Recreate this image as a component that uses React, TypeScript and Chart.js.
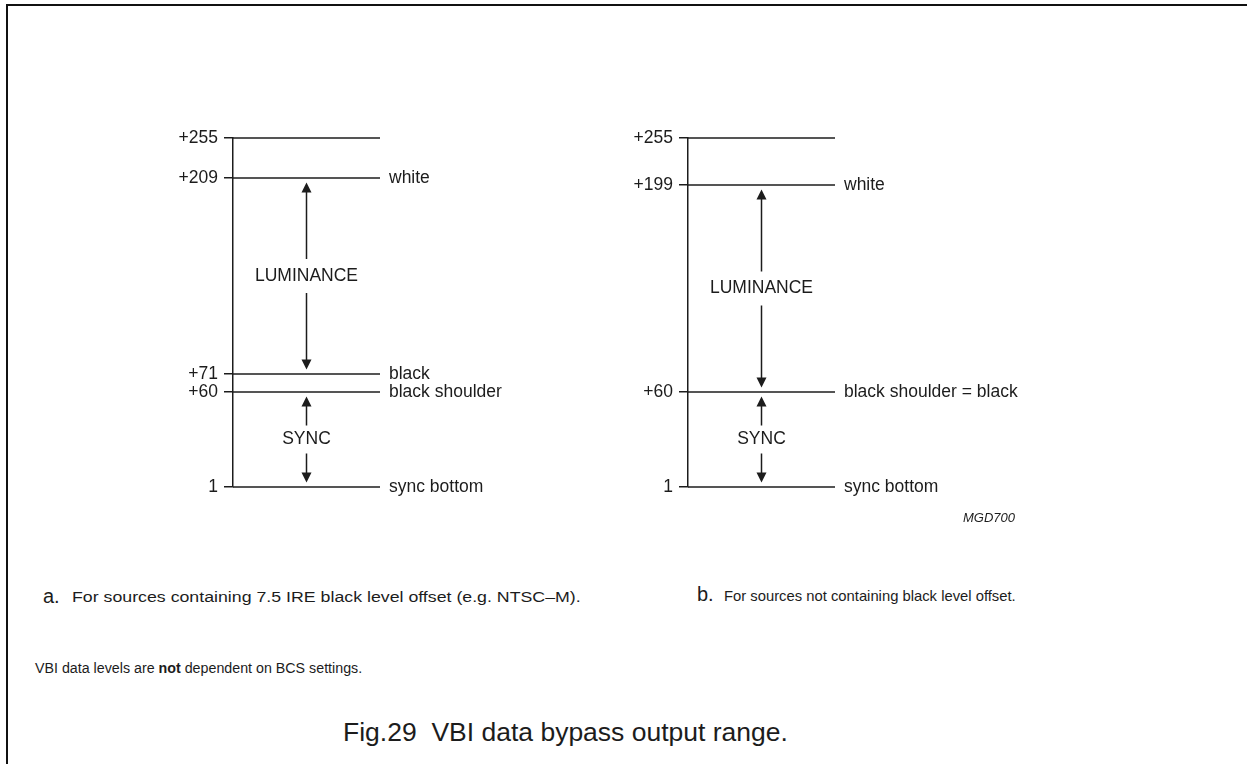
import React, { useEffect, useRef } from "react";
import { Chart, registerables } from "chart.js";

Chart.register(...registerables);

// ---------- Panel a: sources with 7.5 IRE black level offset ----------
const levelValuesA = [255, 209, 71, 60, 1];
const tickLabelsA = ["+255", "+209", "+71", "+60", "1"];
const levelNamesA = ["", "white", "black", "black shoulder", "sync bottom"];
// schematic (not-to-scale) height of each level in the drawing
const schematicA = [349, 309, 113, 95, 0];
const arrowFromA = [1, 3];
const arrowToA = [2, 4];
const arrowLabelsA = ["LUMINANCE", "SYNC"];

// ---------- Panel b: sources without black level offset ----------
const levelValuesB = [255, 199, 60, 1];
const tickLabelsB = ["+255", "+199", "+60", "1"];
const levelNamesB = ["", "white", "black shoulder = black", "sync bottom"];
const schematicB = [349, 302, 95, 0];
const arrowFromB = [1, 2];
const arrowToB = [2, 3];
const arrowLabelsB = ["LUMINANCE", "SYNC"];

const INK = "#1c1c1c";
const FONT = "'Liberation Sans', Arial, sans-serif";

const arrowPlugin = {
  id: "levelArrows",
  afterDatasetsDraw(chart: any, _args: any, opts: any) {
    const { ctx, chartArea, scales } = chart;
    const ys = scales.y;
    const x = (chartArea.left + chartArea.right) / 2;
    const items = opts.items || [];
    items.forEach((a: any) => {
      const yTop = ys.getPixelForValue(a.top);
      const yBot = ys.getPixelForValue(a.bottom);
      const mid = (yTop + yBot) / 2;
      const gap = 4.5;
      const head = 10;
      const hw = 5;
      const lg = a.labelGap;
      ctx.save();
      ctx.strokeStyle = INK;
      ctx.fillStyle = INK;
      ctx.lineWidth = 1.5;
      ctx.beginPath();
      ctx.moveTo(x, yTop + gap + head - 1);
      ctx.lineTo(x, mid - lg);
      ctx.moveTo(x, mid + lg);
      ctx.lineTo(x, yBot - gap - head + 1);
      ctx.stroke();
      ctx.beginPath();
      ctx.moveTo(x, yTop + gap);
      ctx.lineTo(x - hw, yTop + gap + head);
      ctx.lineTo(x + hw, yTop + gap + head);
      ctx.closePath();
      ctx.fill();
      ctx.beginPath();
      ctx.moveTo(x, yBot - gap);
      ctx.lineTo(x - hw, yBot - gap - head);
      ctx.lineTo(x + hw, yBot - gap - head);
      ctx.closePath();
      ctx.fill();
      ctx.font = `17.5px ${FONT}`;
      ctx.textAlign = "center";
      ctx.textBaseline = "middle";
      ctx.fillText(a.label, x, mid);
      ctx.restore();
    });
  },
};

function makeConfig(
  values: number[],
  tickLabels: string[],
  names: string[],
  heights: number[],
  from: number[],
  to: number[],
  arrowLabels: string[]
): any {
  const top = Math.max(...heights);
  const datasets = values.map((v, i) => ({
    type: "line",
    label: String(v),
    data: [
      { x: 0, y: heights[i] },
      { x: 1, y: heights[i] },
    ],
    borderColor: INK,
    borderWidth: 1.5,
    pointRadius: 0,
    clip: false,
  }));
  const setTicks = (s: any) => {
    s.ticks = heights.map((h) => ({ value: h }));
  };
  return {
    type: "line",
    data: { datasets },
    options: {
      animation: false,
      responsive: true,
      maintainAspectRatio: false,
      events: [],
      layout: { padding: { top: 38, bottom: 33, left: 0, right: 0 } },
      plugins: {
        legend: { display: false },
        tooltip: { enabled: false },
        levelArrows: {
          items: from.map((f, i) => ({
            top: heights[f],
            bottom: heights[to[i]],
            label: arrowLabels[i],
            labelGap: i === 0 ? 17 : 14,
          })),
        },
      },
      scales: {
        x: { type: "linear", min: 0, max: 1, display: false },
        y: {
          type: "linear",
          position: "left",
          min: 0,
          max: top,
          afterBuildTicks: setTicks,
          afterFit: (s: any) => {
            s.width = 83;
          },
          ticks: {
            autoSkip: false,
            padding: 6,
            color: INK,
            font: { family: FONT, size: 17.5 },
            callback: (v: any) => tickLabels[heights.indexOf(v)] ?? "",
          },
          grid: {
            drawOnChartArea: false,
            drawTicks: true,
            tickLength: 9,
            color: INK,
            lineWidth: 1.5,
          },
          border: { display: true, color: INK, width: 1.5 },
        },
        y2: {
          type: "linear",
          position: "right",
          min: 0,
          max: top,
          afterBuildTicks: setTicks,
          afterFit: (s: any) => {
            s.width = 230;
          },
          ticks: {
            autoSkip: false,
            padding: 1,
            color: INK,
            font: { family: FONT, size: 17.5 },
            callback: (v: any) => names[heights.indexOf(v)] ?? "",
          },
          grid: { display: false },
          border: { display: false },
        },
      },
    },
    plugins: [arrowPlugin],
  };
}

function Panel(props: { left: number; cfg: () => any }) {
  const ref = useRef<HTMLCanvasElement | null>(null);
  useEffect(() => {
    if (!ref.current) return;
    const chart = new Chart(ref.current, props.cfg());
    return () => chart.destroy();
  }, []);
  return (
    <div
      style={{
        position: "absolute",
        left: props.left,
        top: 100,
        width: 460,
        height: 420,
      }}
    >
      <canvas ref={ref} />
    </div>
  );
}

const textBase: React.CSSProperties = {
  position: "absolute",
  fontFamily: FONT,
  color: INK,
  whiteSpace: "nowrap",
  lineHeight: 1,
  transform: "translateY(-50%)",
  transformOrigin: "left center",
};

export default function App() {
  return (
    <div
      style={{
        position: "absolute",
        left: 0,
        top: 0,
        width: 1247,
        height: 764,
        background: "#fff",
        overflow: "hidden",
      }}
    >
      <div
        style={{
          position: "absolute",
          left: 6,
          top: 4,
          right: 0,
          bottom: 0,
          borderTop: "2px solid #111",
          borderLeft: "2px solid #111",
        }}
      />
      <Panel
        left={150}
        cfg={() =>
          makeConfig(levelValuesA, tickLabelsA, levelNamesA, schematicA, arrowFromA, arrowToA, arrowLabelsA)
        }
      />
      <Panel
        left={605}
        cfg={() =>
          makeConfig(levelValuesB, tickLabelsB, levelNamesB, schematicB, arrowFromB, arrowToB, arrowLabelsB)
        }
      />
      <div style={{ ...textBase, left: 963, top: 517, fontSize: 13, fontStyle: "italic" }}>MGD700</div>
      <div style={{ ...textBase, left: 43, top: 596, fontSize: 20 }}>a.</div>
      <div
        style={{
          ...textBase,
          left: 72,
          top: 597,
          fontSize: 15.5,
          transform: "translateY(-50%) scaleX(1.145)",
        }}
      >
        For sources containing 7.5 IRE black level offset (e.g. NTSC–M).
      </div>
      <div style={{ ...textBase, left: 697, top: 594, fontSize: 20 }}>b.</div>
      <div style={{ ...textBase, left: 724, top: 596, fontSize: 14.8 }}>
        For sources not containing black level offset.
      </div>
      <div style={{ ...textBase, left: 35, top: 668, fontSize: 14.25 }}>
        VBI data levels are <b>not</b> dependent on BCS settings.
      </div>
      <div style={{ ...textBase, left: 343, top: 732, fontSize: 26.5 }}>
        Fig.29&nbsp;&nbsp;VBI data bypass output range.
      </div>
    </div>
  );
}
